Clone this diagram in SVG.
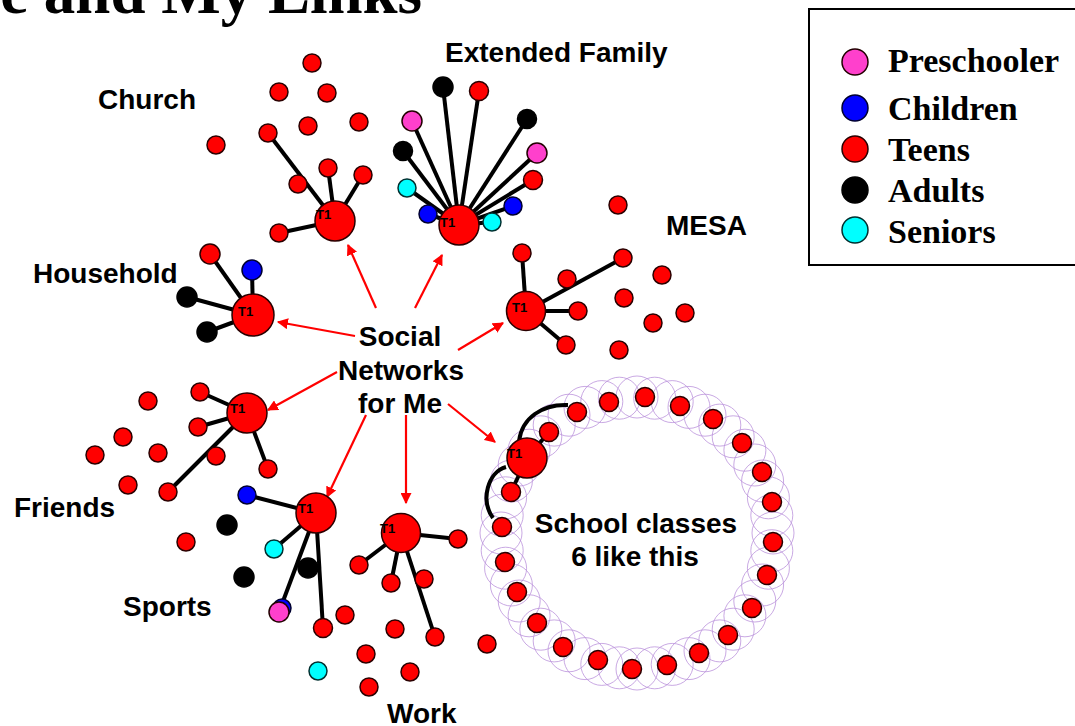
<svg xmlns="http://www.w3.org/2000/svg" width="1075" height="726" viewBox="0 0 1075 726">
<defs>
<marker id="ah" viewBox="0 0 10 10" refX="9" refY="5" markerWidth="5" markerHeight="5" orient="auto" markerUnits="strokeWidth">
<path d="M0,0 L10,5 L0,10 z" fill="#ff0000"/>
</marker>
</defs>
<style>
.t{fill:#ff0000;stroke:#2a0000;stroke-width:1.5}
.a{fill:#000;stroke:#000;stroke-width:1.5}
.c{fill:#0000ff;stroke:#000030;stroke-width:1.5}
.p{fill:#ff40cc;stroke:#200;stroke-width:1.5}
.s{fill:#00ffff;stroke:#003030;stroke-width:1.5}
.hub{fill:#ff0000;stroke:#2a0000;stroke-width:1.5}
.lk{stroke:#000;stroke-width:4;fill:none}
.ar{stroke:#ff0000;stroke-width:2.2;fill:none;marker-end:url(#ah)}
.lbl{font-family:"Liberation Sans",Arial,sans-serif;font-weight:bold;font-size:28px;fill:#000}
.t1{font-family:"Liberation Sans",Arial,sans-serif;font-weight:bold;font-size:13px;fill:#000}
.leg{font-family:"Liberation Serif","Times New Roman",serif;font-weight:bold;font-size:34px;fill:#000}
.ros{fill:none;stroke:#bb94dc;stroke-width:1;opacity:0.8}
</style>
<rect width="1075" height="726" fill="#fff"/>
<text x="422" y="13" text-anchor="end" font-family="Liberation Serif,Times New Roman,serif" font-weight="bold" font-size="63">e and My Links</text>

<g id="legend">
<rect x="809" y="9" width="300" height="256" fill="#fff" stroke="#000" stroke-width="2"/>
<circle cx="855" cy="62" r="13" class="p"/>
<circle cx="855" cy="108" r="13" class="c"/>
<circle cx="855" cy="149" r="13" class="t"/>
<circle cx="855" cy="190" r="13" class="a"/>
<circle cx="855" cy="230" r="13" class="s"/>
<text class="leg" x="888" y="72">Preschooler</text>
<text class="leg" x="888" y="120">Children</text>
<text class="leg" x="888" y="161">Teens</text>
<text class="leg" x="888" y="202">Adults</text>
<text class="leg" x="888" y="243">Seniors</text>
</g>

<g id="rosette">
<circle class="ros" cx="773" cy="533" r="21"/><circle class="ros" cx="771.8" cy="550.7" r="21"/><circle class="ros" cx="768.4" cy="568.2" r="21"/><circle class="ros" cx="762.6" cy="585" r="21"/><circle class="ros" cx="754.8" cy="601" r="21"/><circle class="ros" cx="744.9" cy="615.8" r="21"/><circle class="ros" cx="733.2" cy="629.2" r="21"/><circle class="ros" cx="719.8" cy="640.9" r="21"/><circle class="ros" cx="705" cy="650.8" r="21"/><circle class="ros" cx="689" cy="658.6" r="21"/><circle class="ros" cx="672.2" cy="664.4" r="21"/><circle class="ros" cx="654.7" cy="667.8" r="21"/>
<circle class="ros" cx="637" cy="669" r="21"/><circle class="ros" cx="619.3" cy="667.8" r="21"/><circle class="ros" cx="601.8" cy="664.4" r="21"/><circle class="ros" cx="585" cy="658.6" r="21"/><circle class="ros" cx="569" cy="650.8" r="21"/><circle class="ros" cx="554.2" cy="640.9" r="21"/><circle class="ros" cx="540.8" cy="629.2" r="21"/><circle class="ros" cx="529.1" cy="615.8" r="21"/><circle class="ros" cx="519.2" cy="601" r="21"/><circle class="ros" cx="511.4" cy="585" r="21"/><circle class="ros" cx="505.6" cy="568.2" r="21"/><circle class="ros" cx="502.2" cy="550.7" r="21"/>
<circle class="ros" cx="501" cy="533" r="21"/><circle class="ros" cx="502.2" cy="515.3" r="21"/><circle class="ros" cx="505.6" cy="497.8" r="21"/><circle class="ros" cx="511.4" cy="481" r="21"/><circle class="ros" cx="519.2" cy="465" r="21"/><circle class="ros" cx="529.1" cy="450.2" r="21"/><circle class="ros" cx="540.8" cy="436.8" r="21"/><circle class="ros" cx="554.2" cy="425.1" r="21"/><circle class="ros" cx="569" cy="415.2" r="21"/><circle class="ros" cx="585" cy="407.4" r="21"/><circle class="ros" cx="601.8" cy="401.6" r="21"/><circle class="ros" cx="619.3" cy="398.2" r="21"/>
<circle class="ros" cx="637" cy="397" r="21"/><circle class="ros" cx="654.7" cy="398.2" r="21"/><circle class="ros" cx="672.2" cy="401.6" r="21"/><circle class="ros" cx="689" cy="407.4" r="21"/><circle class="ros" cx="705" cy="415.2" r="21"/><circle class="ros" cx="719.8" cy="425.1" r="21"/><circle class="ros" cx="733.2" cy="436.8" r="21"/><circle class="ros" cx="744.9" cy="450.2" r="21"/><circle class="ros" cx="754.8" cy="465" r="21"/><circle class="ros" cx="762.6" cy="481" r="21"/><circle class="ros" cx="768.4" cy="497.8" r="21"/><circle class="ros" cx="771.8" cy="515.3" r="21"/>
</g>

<g id="connectors">
<line class="lk" x1="335" y1="221" x2="268" y2="133"/>
<line class="lk" x1="335" y1="221" x2="328" y2="168"/>
<line class="lk" x1="335" y1="221" x2="363" y2="175"/>
<line class="lk" x1="335" y1="221" x2="279" y2="233"/>
<line class="lk" x1="459" y1="225" x2="443" y2="87"/>
<line class="lk" x1="459" y1="225" x2="479" y2="91"/>
<line class="lk" x1="459" y1="225" x2="412" y2="121"/>
<line class="lk" x1="459" y1="225" x2="527" y2="119"/>
<line class="lk" x1="459" y1="225" x2="403" y2="151"/>
<line class="lk" x1="459" y1="225" x2="537" y2="153"/>
<line class="lk" x1="459" y1="225" x2="533" y2="180"/>
<line class="lk" x1="459" y1="225" x2="407" y2="188"/>
<line class="lk" x1="459" y1="225" x2="513" y2="206"/>
<line class="lk" x1="459" y1="225" x2="428" y2="214"/>
<line class="lk" x1="459" y1="225" x2="492" y2="222"/>
<line class="lk" x1="253" y1="315" x2="210" y2="254"/>
<line class="lk" x1="253" y1="315" x2="252" y2="270"/>
<line class="lk" x1="253" y1="315" x2="187" y2="297"/>
<line class="lk" x1="253" y1="315" x2="207" y2="332"/>
<line class="lk" x1="526" y1="311" x2="522" y2="253"/>
<line class="lk" x1="526" y1="311" x2="623" y2="258"/>
<line class="lk" x1="526" y1="311" x2="578" y2="311"/>
<line class="lk" x1="526" y1="311" x2="566" y2="345"/>
<line class="lk" x1="247" y1="413" x2="200" y2="392"/>
<line class="lk" x1="247" y1="413" x2="198" y2="427"/>
<line class="lk" x1="247" y1="413" x2="268" y2="469"/>
<line class="lk" x1="247" y1="413" x2="168" y2="492"/>
<line class="lk" x1="316" y1="513" x2="247" y2="495"/>
<line class="lk" x1="316" y1="513" x2="274" y2="549"/>
<line class="lk" x1="316" y1="513" x2="279" y2="612"/>
<line class="lk" x1="316" y1="513" x2="323" y2="628"/>
<line class="lk" x1="401" y1="533" x2="458" y2="539"/>
<line class="lk" x1="401" y1="533" x2="359" y2="565"/>
<line class="lk" x1="401" y1="533" x2="391" y2="583"/>
<line class="lk" x1="401" y1="533" x2="435" y2="637"/>
<line class="lk" x1="527" y1="458" x2="549" y2="432" stroke-width="3"/>
<line class="lk" x1="527" y1="458" x2="511" y2="492" stroke-width="3"/>
<path class="lk" stroke-width="3" d="M519,441 C522,418 542,404 568,405"/>
<path class="lk" stroke-width="3" d="M506,467 C488,472 480,500 493,518"/>
<line class="ar" x1="376" y1="308" x2="348" y2="245"/>
<line class="ar" x1="415" y1="308" x2="442" y2="255"/>
<line class="ar" x1="355" y1="336" x2="278" y2="322"/>
<line class="ar" x1="458" y1="350" x2="503" y2="323"/>
<line class="ar" x1="337" y1="372" x2="268" y2="410"/>
<line class="ar" x1="366" y1="415" x2="327" y2="497"/>
<line class="ar" x1="406" y1="415" x2="406" y2="503"/>
<line class="ar" x1="448" y1="404" x2="495" y2="442"/>
</g>

<g id="center-label">
<text class="lbl" x="400" y="346" text-anchor="middle">Social</text>
<text class="lbl" x="401" y="380" text-anchor="middle">Networks</text>
<text class="lbl" x="400" y="413" text-anchor="middle">for Me</text>
</g>

<g id="church">
<text class="lbl" x="98" y="109">Church</text>
<circle class="t" cx="312" cy="63" r="9"/>
<circle class="t" cx="279" cy="92" r="9"/>
<circle class="t" cx="327" cy="93" r="9"/>
<circle class="t" cx="308" cy="126" r="9"/>
<circle class="t" cx="359" cy="122" r="9"/>
<circle class="t" cx="268" cy="133" r="9"/>
<circle class="t" cx="216" cy="145" r="9"/>
<circle class="t" cx="328" cy="168" r="9"/>
<circle class="t" cx="298" cy="184" r="9"/>
<circle class="t" cx="363" cy="175" r="9"/>
<circle class="t" cx="279" cy="233" r="9"/>
<circle class="hub" cx="335" cy="221" r="20"/>
<text class="t1" x="316" y="219">T1</text>
</g>

<g id="extended-family">
<text class="lbl" x="445" y="62" font-size="28.5">Extended Family</text>
<circle class="a" cx="443" cy="87" r="10"/>
<circle class="t" cx="479" cy="91" r="9.5"/>
<circle class="p" cx="412" cy="121" r="10"/>
<circle class="a" cx="527" cy="119" r="9.5"/>
<circle class="a" cx="403" cy="151" r="9.5"/>
<circle class="p" cx="537" cy="153" r="10"/>
<circle class="t" cx="533" cy="180" r="9.5"/>
<circle class="s" cx="407" cy="188" r="9"/>
<circle class="c" cx="513" cy="206" r="9"/>
<circle class="c" cx="428" cy="214" r="9"/>
<circle class="s" cx="492" cy="222" r="9"/>
<circle class="hub" cx="459" cy="225" r="20"/>
<text class="t1" x="440" y="227">T1</text>
</g>

<g id="household">
<text class="lbl" x="33" y="283">Household</text>
<circle class="t" cx="210" cy="254" r="10"/>
<circle class="c" cx="252" cy="270" r="10"/>
<circle class="a" cx="187" cy="297" r="10"/>
<circle class="a" cx="207" cy="332" r="10"/>
<circle class="hub" cx="253" cy="315" r="21"/>
<text class="t1" x="238" y="316">T1</text>
</g>

<g id="mesa">
<text class="lbl" x="666" y="235">MESA</text>
<circle class="t" cx="618" cy="205" r="9"/>
<circle class="t" cx="522" cy="253" r="9"/>
<circle class="t" cx="623" cy="258" r="9"/>
<circle class="t" cx="567" cy="279" r="9"/>
<circle class="t" cx="662" cy="275" r="9"/>
<circle class="t" cx="624" cy="298" r="9"/>
<circle class="t" cx="578" cy="311" r="9"/>
<circle class="t" cx="685" cy="313" r="9"/>
<circle class="t" cx="653" cy="323" r="9"/>
<circle class="t" cx="566" cy="345" r="9"/>
<circle class="t" cx="619" cy="350" r="9"/>
<circle class="hub" cx="526" cy="311" r="19.5"/>
<text class="t1" x="512" y="312">T1</text>
</g>

<g id="friends">
<text class="lbl" x="14" y="517">Friends</text>
<circle class="t" cx="200" cy="392" r="9"/>
<circle class="t" cx="148" cy="401" r="9"/>
<circle class="t" cx="198" cy="427" r="9"/>
<circle class="t" cx="123" cy="437" r="9"/>
<circle class="t" cx="95" cy="455" r="9"/>
<circle class="t" cx="158" cy="453" r="9"/>
<circle class="t" cx="216" cy="456" r="9"/>
<circle class="t" cx="268" cy="469" r="9"/>
<circle class="t" cx="128" cy="485" r="9"/>
<circle class="t" cx="168" cy="492" r="9"/>
<circle class="hub" cx="247" cy="413" r="20"/>
<text class="t1" x="230" y="413">T1</text>
</g>

<g id="sports">
<text class="lbl" x="123" y="616">Sports</text>
<circle class="c" cx="247" cy="495" r="9"/>
<circle class="a" cx="227" cy="525" r="10"/>
<circle class="t" cx="186" cy="542" r="9"/>
<circle class="s" cx="274" cy="549" r="9"/>
<circle class="a" cx="308" cy="568" r="10"/>
<circle class="a" cx="244" cy="577" r="10"/>
<circle class="c" cx="282" cy="608" r="9"/>
<circle class="p" cx="279" cy="612" r="10"/>
<circle class="t" cx="345" cy="615" r="9"/>
<circle class="t" cx="323" cy="628" r="9.5"/>
<circle class="hub" cx="316" cy="513" r="20"/>
<text class="t1" x="298" y="513">T1</text>
</g>

<g id="work">
<text class="lbl" x="387" y="723">Work</text>
<circle class="t" cx="458" cy="539" r="9"/>
<circle class="t" cx="359" cy="565" r="9"/>
<circle class="t" cx="391" cy="583" r="9"/>
<circle class="t" cx="424" cy="579" r="9"/>
<circle class="t" cx="395" cy="629" r="9"/>
<circle class="t" cx="435" cy="637" r="9"/>
<circle class="t" cx="487" cy="644" r="9"/>
<circle class="t" cx="366" cy="654" r="9"/>
<circle class="t" cx="410" cy="672" r="9"/>
<circle class="t" cx="369" cy="687" r="9"/>
<circle class="s" cx="318" cy="671" r="9"/>
<circle class="hub" cx="401" cy="533" r="19.5"/>
<text class="t1" x="380" y="533">T1</text>
</g>

<g id="school-classes">
<circle class="t" cx="577" cy="412" r="9.5"/>
<circle class="t" cx="609" cy="402" r="9.5"/>
<circle class="t" cx="645" cy="397" r="9.5"/>
<circle class="t" cx="680" cy="406" r="9.5"/>
<circle class="t" cx="713" cy="419" r="9.5"/>
<circle class="t" cx="742" cy="443" r="9.5"/>
<circle class="t" cx="762" cy="472" r="9.5"/>
<circle class="t" cx="772" cy="502" r="9.5"/>
<circle class="t" cx="773" cy="542" r="9.5"/>
<circle class="t" cx="767" cy="575" r="9.5"/>
<circle class="t" cx="752" cy="608" r="9.5"/>
<circle class="t" cx="728" cy="635" r="9.5"/>
<circle class="t" cx="699" cy="653" r="9.5"/>
<circle class="t" cx="667" cy="665" r="9.5"/>
<circle class="t" cx="632" cy="669" r="9.5"/>
<circle class="t" cx="598" cy="660" r="9.5"/>
<circle class="t" cx="563" cy="647" r="9.5"/>
<circle class="t" cx="537" cy="623" r="9.5"/>
<circle class="t" cx="517" cy="592" r="9.5"/>
<circle class="t" cx="505" cy="562" r="9.5"/>
<circle class="t" cx="502" cy="527" r="9.5"/>
<circle class="t" cx="511" cy="492" r="9.5"/>
<circle class="t" cx="549" cy="432" r="9.5"/>
<circle class="hub" cx="527" cy="458" r="20"/>
<text class="t1" x="507" y="458">T1</text>
<text class="lbl" x="636" y="533" text-anchor="middle" font-size="26">School classes</text>
<text class="lbl" x="635" y="566" text-anchor="middle" font-size="26">6 like this</text>
</g>
</svg>
